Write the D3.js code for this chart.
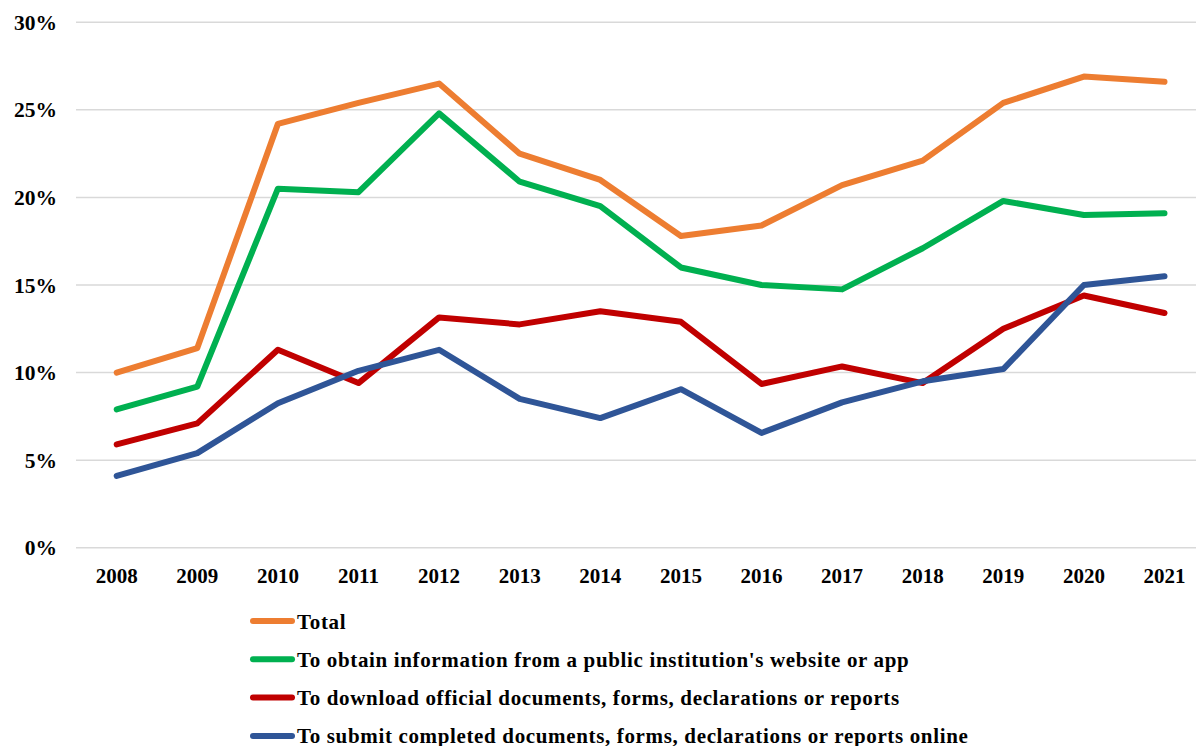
<!DOCTYPE html>
<html>
<head>
<meta charset="utf-8">
<script src="https://cdn.jsdelivr.net/npm/d3@7"></script>
<style>
  html, body { margin: 0; padding: 0; background: #fff; }
  svg text { font-family: "Liberation Serif", "Times New Roman", serif; font-weight: bold; fill: #000; }
</style>
</head>
<body>
<svg id="chart" width="1196" height="746"></svg>
<script>
const years = ["2008","2009","2010","2011","2012","2013","2014","2015","2016","2017","2018","2019","2020","2021"];
const yTicks = [0, 5, 10, 15, 20, 25, 30];
const seriesNames = [
  "Total",
  "To obtain information from a public institution's website or app",
  "To download official documents, forms, declarations or reports",
  "To submit completed documents, forms, declarations or reports online"
];
const seriesColors = ["#ED7D31", "#00B050", "#C00000", "#2F5597"];
const totalVals    = [10.0, 11.4, 24.2, 25.4, 26.5, 22.5, 21.0, 17.8, 18.4, 20.7, 22.1, 25.4, 26.9, 26.6];
const obtainVals   = [7.9, 9.2, 20.5, 20.3, 24.8, 20.9, 19.5, 16.0, 15.0, 14.75, 17.1, 19.8, 19.0, 19.1];
const downloadVals = [5.9, 7.1, 11.3, 9.4, 13.15, 12.75, 13.5, 12.9, 9.35, 10.35, 9.4, 12.5, 14.4, 13.4];
const submitVals   = [4.1, 5.4, 8.25, 10.1, 11.3, 8.5, 7.4, 9.05, 6.55, 8.3, 9.5, 10.2, 15.0, 15.5];
const allSeries = [totalVals, obtainVals, downloadVals, submitVals];

const svg = d3.select("#chart");
const x = d3.scaleBand().domain(years).range([76.4, 1204.8]);
const y = d3.scaleLinear().domain([0, 30]).range([547.7, 22.3]);

// gridlines
svg.append("g").selectAll("line").data(yTicks).join("line")
  .attr("x1", 76).attr("x2", 1196)
  .attr("y1", d => y(d)).attr("y2", d => y(d))
  .attr("stroke", "#D9D9D9").attr("stroke-width", 1.5);

// y labels
svg.append("g").selectAll("text").data(yTicks).join("text")
  .attr("x", 57).attr("y", d => y(d) + 7.5)
  .attr("text-anchor", "end").attr("font-size", 21.5)
  .text(d => d + "%");

// x labels
svg.append("g").selectAll("text").data(years).join("text")
  .attr("x", d => x(d) + x.bandwidth() / 2).attr("y", 583)
  .attr("text-anchor", "middle").attr("font-size", 21)
  .text(d => d);

// lines
const line = d3.line()
  .x((d, i) => x(years[i]) + x.bandwidth() / 2)
  .y(d => y(d));
svg.append("g").selectAll("path").data(allSeries).join("path")
  .attr("d", d => line(d))
  .attr("fill", "none")
  .attr("stroke", (d, i) => seriesColors[i])
  .attr("stroke-width", 6)
  .attr("stroke-linejoin", "round")
  .attr("stroke-linecap", "round");

// legend
const lg = svg.append("g").selectAll("g").data(seriesNames).join("g")
  .attr("transform", (d, i) => `translate(0, ${621 + i * 38.3})`);
lg.append("line").attr("x1", 253).attr("x2", 292).attr("y1", 0).attr("y2", 0)
  .attr("stroke", (d, i) => seriesColors[i]).attr("stroke-width", 6).attr("stroke-linecap", "round");
lg.append("text").attr("x", 297).attr("y", 7.5).attr("font-size", 21)
  .attr("letter-spacing", 0.65).text(d => d);
</script>
</body>
</html>
